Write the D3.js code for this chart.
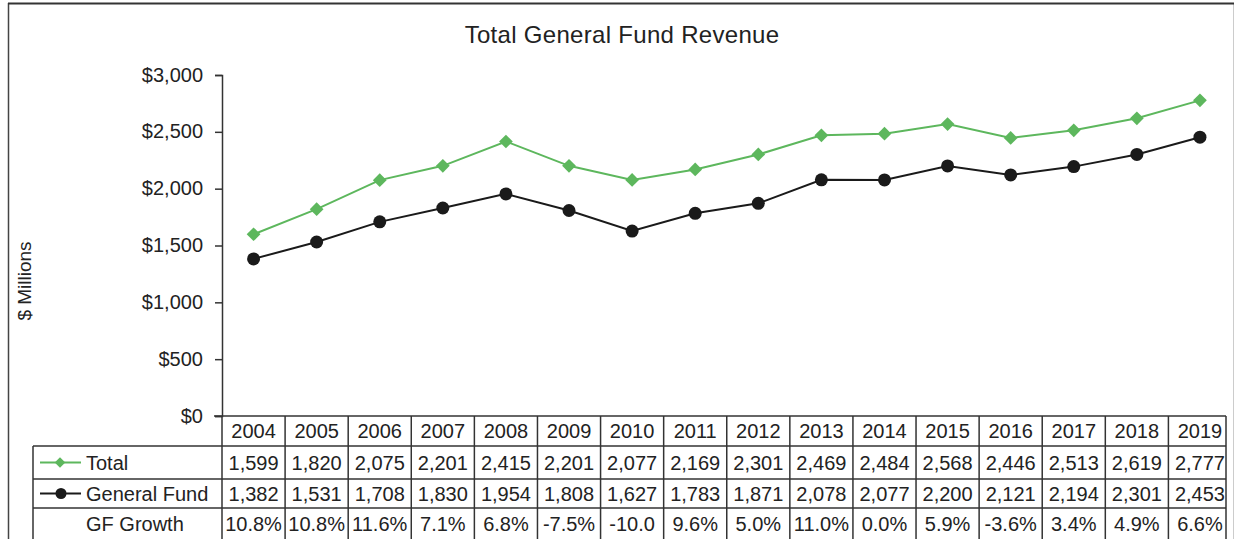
<!DOCTYPE html>
<html>
<head>
<meta charset="utf-8">
<script src="https://cdn.jsdelivr.net/npm/d3@7"></script>
<style>
  body { margin: 0; background: #fff; }
  svg { display: block; font-family: "Liberation Sans", Arial, sans-serif; }
</style>
</head>
<body>
<svg id="chart" width="1235" height="539"></svg>
<script>
"use strict";

var years = ["2004", "2005", "2006", "2007", "2008", "2009", "2010", "2011",
             "2012", "2013", "2014", "2015", "2016", "2017", "2018", "2019"];
var total = [1599, 1820, 2075, 2201, 2415, 2201, 2077, 2169, 2301, 2469, 2484, 2568, 2446, 2513, 2619, 2777];
var generalFund = [1382, 1531, 1708, 1830, 1954, 1808, 1627, 1783, 1871, 2078, 2077, 2200, 2121, 2194, 2301, 2453];
var gfGrowth = ["10.8%", "10.8%", "11.6%", "7.1%", "6.8%", "-7.5%", "-10.0", "9.6%",
                "5.0%", "11.0%", "0.0%", "5.9%", "-3.6%", "3.4%", "4.9%", "6.6%"];
var yTicks = [0, 500, 1000, 1500, 2000, 2500, 3000];

var green = "#5db75d";
var ink = "#222";
var lineCol = "#333";

var svg = d3.select("#chart");

// outer frame
svg.append("line")
    .attr("x1", 8.5).attr("x2", 8.5).attr("y1", 3).attr("y2", 539)
    .attr("stroke", "#444").attr("stroke-width", 1.5);
svg.append("line")
    .attr("x1", 1233.5).attr("x2", 1233.5).attr("y1", 3).attr("y2", 539)
    .attr("stroke", "#ccc").attr("stroke-width", 1);
svg.append("line")
    .attr("x1", 8).attr("x2", 1234).attr("y1", 3.5).attr("y2", 3.5)
    .attr("stroke", "#333").attr("stroke-width", 2);

// title
svg.append("text")
    .attr("x", 622).attr("y", 43)
    .attr("text-anchor", "middle")
    .style("font-size", "24px")
    .style("letter-spacing", "0.3px")
    .attr("fill", ink)
    .text("Total General Fund Revenue");

// scales
var x = d3.scaleBand().domain(years).range([222, 1231.5]);
var y = d3.scaleLinear().domain([0, 3000]).range([416, 75]);

// y axis
var yAxis = d3.axisLeft(y)
    .tickValues(yTicks)
    .tickSize(7)
    .tickPadding(12)
    .tickFormat(d => "$" + d3.format(",")(d));

var gy = svg.append("g")
    .attr("transform", "translate(222,0)")
    .call(yAxis);
gy.select(".domain").attr("stroke", lineCol).attr("stroke-width", 1.5);
gy.selectAll(".tick line").attr("stroke", lineCol).attr("stroke-width", 1.5);
gy.selectAll(".tick text")
    .attr("fill", ink)
    .style("font-size", "20px")
    .attr("dy", "0.3em")
    .style("font-family", "'Liberation Sans', Arial, sans-serif");

// y label
svg.append("text")
    .attr("transform", "translate(31,281) rotate(-90)")
    .attr("text-anchor", "middle")
    .style("font-size", "19px")
    .attr("fill", ink)
    .text("$ Millions");

// lines
var cx = d => x(d) + x.bandwidth() / 2;

var lineGen = d3.line()
    .x((d, i) => cx(years[i]))
    .y(d => y(d));

svg.append("path")
    .datum(total)
    .attr("d", lineGen)
    .attr("fill", "none")
    .attr("stroke", green)
    .attr("stroke-width", 2);

svg.append("path")
    .datum(generalFund)
    .attr("d", lineGen)
    .attr("fill", "none")
    .attr("stroke", "#1a1a1a")
    .attr("stroke-width", 2);

var diamond = d3.symbol().type(d3.symbolDiamond2).size(120);

svg.append("g").selectAll("path")
    .data(total)
    .enter()
    .append("path")
    .attr("d", diamond)
    .attr("transform", (d, i) => "translate(" + cx(years[i]) + "," + y(d) + ")")
    .attr("fill", green);

svg.append("g").selectAll("circle")
    .data(generalFund)
    .enter()
    .append("circle")
    .attr("cx", (d, i) => cx(years[i]))
    .attr("cy", d => y(d))
    .attr("r", 6.5)
    .attr("fill", "#1a1a1a");

// data table
var rowY = [416, 446, 479, 508, 540];
var tableLeft = 33;
var tableRight = 1226;
var table = svg.append("g")
    .attr("stroke", lineCol)
    .attr("stroke-width", 1.5);

// horizontal rules
table.append("line")
    .attr("x1", 214).attr("x2", tableRight)
    .attr("y1", rowY[0]).attr("y2", rowY[0]);
rowY.slice(1, 4).forEach(function(ry) {
    table.append("line")
        .attr("x1", tableLeft).attr("x2", tableRight)
        .attr("y1", ry).attr("y2", ry);
});

// vertical rules
table.append("line")
    .attr("x1", tableLeft).attr("x2", tableLeft)
    .attr("y1", rowY[1]).attr("y2", 539);
years.forEach(function(yr) {
    table.append("line")
        .attr("x1", x(yr)).attr("x2", x(yr))
        .attr("y1", rowY[0]).attr("y2", 539);
});
table.append("line")
    .attr("x1", tableRight).attr("x2", tableRight)
    .attr("y1", rowY[0]).attr("y2", 539);

var rows = [
    years,
    total.map(d3.format(",")),
    generalFund.map(d3.format(",")),
    gfGrowth
];

rows.forEach(function(vals, r) {
    var mid = (rowY[r] + rowY[r + 1]) / 2;
    svg.append("g").selectAll("text")
        .data(vals)
        .enter()
        .append("text")
        .attr("x", (d, i) => cx(years[i]))
        .attr("y", mid)
        .attr("dy", "0.36em")
        .attr("text-anchor", "middle")
        .style("font-size", "20px")
        .attr("fill", ink)
        .text(d => d);
});

// legend keys in the table
var keyY1 = (rowY[1] + rowY[2]) / 2;
var keyY2 = (rowY[2] + rowY[3]) / 2;
var keyY3 = (rowY[3] + rowY[4]) / 2;

svg.append("line")
    .attr("x1", 40).attr("x2", 81).attr("y1", keyY1).attr("y2", keyY1)
    .attr("stroke", green).attr("stroke-width", 2);
svg.append("path")
    .attr("d", d3.symbol().type(d3.symbolDiamond2).size(70))
    .attr("transform", "translate(60," + keyY1 + ")")
    .attr("fill", green);

svg.append("line")
    .attr("x1", 40).attr("x2", 81).attr("y1", keyY2).attr("y2", keyY2)
    .attr("stroke", "#1a1a1a").attr("stroke-width", 2);
svg.append("circle")
    .attr("cx", 61).attr("cy", keyY2).attr("r", 5.5)
    .attr("fill", "#1a1a1a");

[["Total", keyY1], ["General Fund", keyY2], ["GF Growth", keyY3]].forEach(function(l) {
    svg.append("text")
        .attr("x", 86).attr("y", l[1])
        .attr("dy", "0.36em")
        .style("font-size", "20px")
        .attr("fill", ink)
        .text(l[0]);
});
</script>
</body>
</html>
